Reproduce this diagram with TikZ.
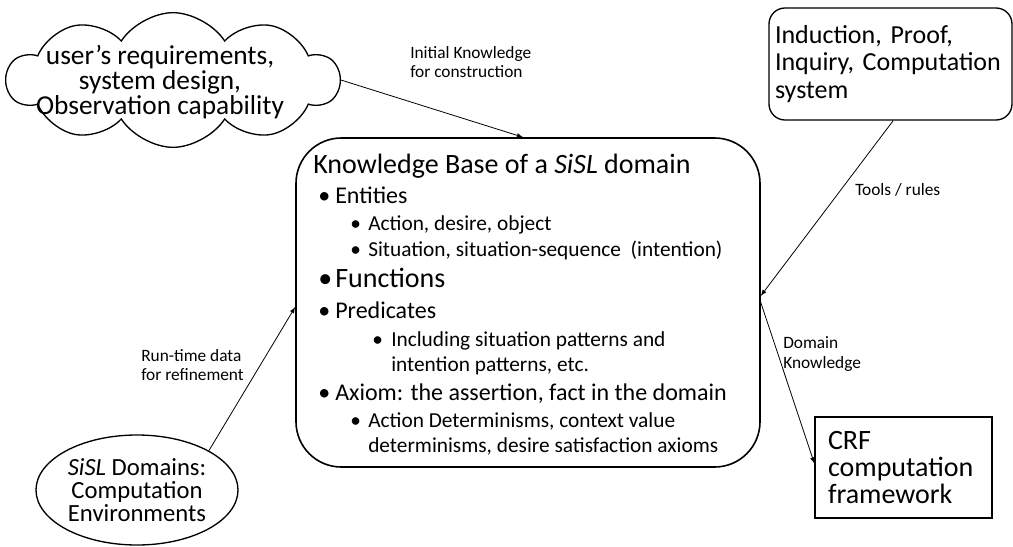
\documentclass[tikz,border=0pt]{standalone}
\usepackage{fontspec}
\setmainfont{Carlito}
\usetikzlibrary{shapes.symbols,shapes.geometric}

\newcommand{\itm}[2]{\makebox[#1][l]{\textbullet}#2}

\begin{document}
\begin{tikzpicture}[x=0.75pt,y=-0.75pt,
    box/.style ={draw, line width=1pt, inner sep=0pt},
    link/.style ={draw, line width=0.6pt, -latex},
    tag/.style ={font=\fontsize{13}{14.5}\selectfont, align=left, inner sep=0pt, anchor=west},
    entry/.style ={anchor=base west, inner sep=0pt}]
   \useasboundingbox (0,0) rectangle (1013,546);

   \node[box, cloud, cloud puffs=10, cloud puff arc=115, aspect=2.5,
         minimum width=249pt, minimum height=101pt] (cloud) at (173,80) {};
   \node[align=center, inner sep=0pt, font=\fontsize{20.5}{19}\selectfont] (wish) at (160,82)
      {user’s requirements,\\system design,\\Observation capability};

   \node[box, rounded corners=34pt, line width=1.2pt, minimum width=348pt,
         minimum height=246.75pt] (kb) at (528,302.5) {};

   \node[box, rounded corners=12pt, minimum width=182.25pt, minimum height=84pt,
         text width=173.25pt, inner xsep=4.5pt, align=left,
         font=\fontsize{19.5}{20.5}\selectfont] (tools) at (890.5,64)
      {Induction, Proof,\\Inquiry, Computation\\system};

   \node[box, ellipse, minimum width=151.5pt, minimum height=82.5pt, align=center,
         font=\fontsize{18.5}{17.5}\selectfont] (env) at (137,490)
      {\textit{SiSL} Domains:\\Computation\\Environments};

   \node[box, minimum width=132.75pt, minimum height=75.75pt, text width=113.25pt,
         inner xsep=9.75pt, align=left, font=\fontsize{21}{20.6}\selectfont] (crf) at (903.5,467.5)
      {CRF\\computation\\framework};

   % contents of the knowledge base
   \node[entry, font=\fontsize{21}{24}\selectfont] (title) at (313,173) {Knowledge Base of a \textit{SiSL} domain};
   \node[entry, font=\fontsize{18}{20}\selectfont] (ent) at (318,203) {\itm{12.75pt}{Entities}};
   \node[entry, font=\fontsize{16}{18}\selectfont] (act) at (350,230) {\itm{13.5pt}{Action, desire, object}};
   \node[entry, font=\fontsize{16}{18}\selectfont] (sit) at (350,256) {\itm{13.5pt}{Situation, situation-sequence\ \ (intention)}};
   \node[entry, font=\fontsize{21}{24}\selectfont] (fun) at (318,287) {\itm{12.75pt}{Functions}};
   \node[entry, font=\fontsize{18}{20}\selectfont] (pred) at (318,318) {\itm{12.75pt}{Predicates}};
   \node[entry, font=\fontsize{16}{18}\selectfont] (inc) at (372,346) {\itm{14.25pt}{Including situation patterns and}};
   \node[entry, font=\fontsize{16}{18}\selectfont] (inc2) at (391,371) {intention patterns, etc.};
   \node[entry, font=\fontsize{18}{20}\selectfont] (ax) at (318,400) {\itm{12.75pt}{Axiom: the assertion, fact in the domain}};
   \node[entry, font=\fontsize{16}{18}\selectfont] (det) at (350,427) {\itm{13.5pt}{Action Determinisms, context value}};
   \node[entry, font=\fontsize{16}{18}\selectfont] (det2) at (368,452) {determinisms, desire satisfaction axioms};

   % connectors
   \draw[link] (cloud.east) -- ([xshift=-3.75pt]kb.north);
   \draw[link] ([xshift=2pt]tools.south) -- ([yshift=5pt]kb.east);
   \draw[link] (env.north east) -- ([yshift=-3.4pt]kb.west);
   \draw[link] (kb.east) -- ([yshift=3pt]crf.west);

   \node[tag] (initlb) at (410,62) {Initial Knowledge\\for construction};
   \node[tag] (toollb) at (855,190) {Tools / rules};
   \node[tag] (runlb) at (141,365) {Run-time data\\for refinement};
   \node[tag] (domlb) at (783,354) {Domain\\Knowledge};
\end{tikzpicture}
\end{document}
